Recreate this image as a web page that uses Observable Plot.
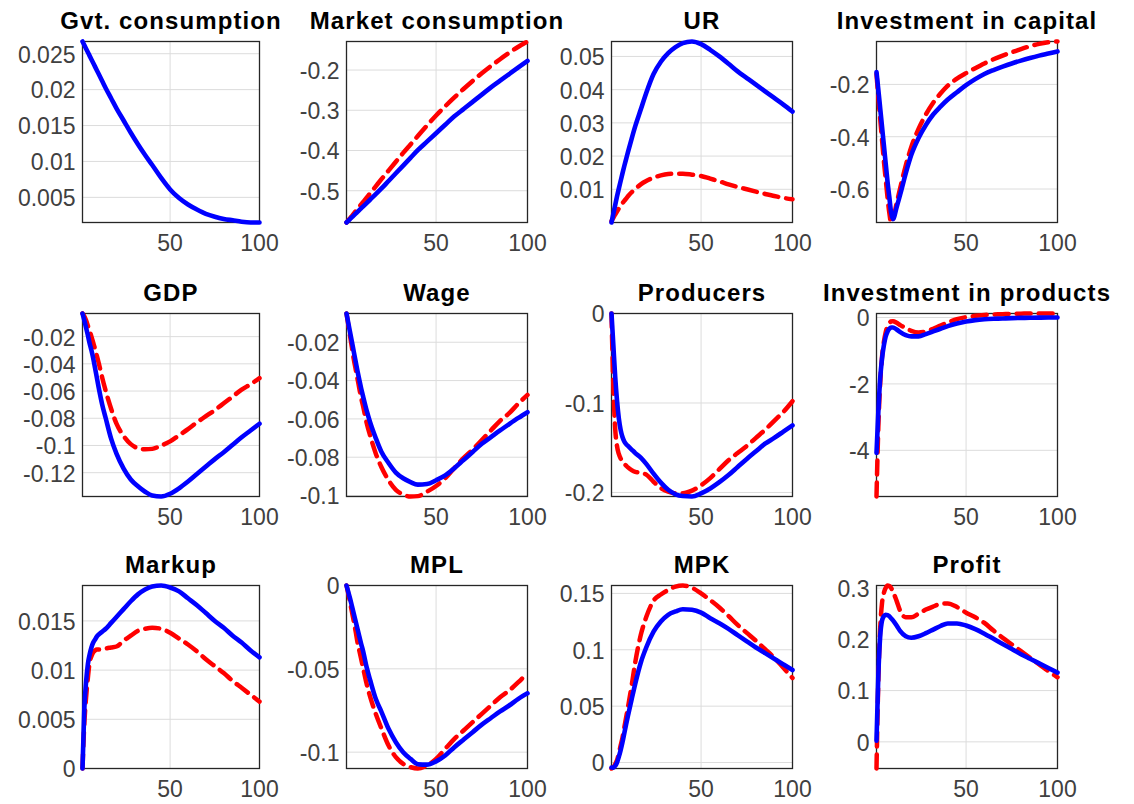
<!DOCTYPE html>
<html><head><meta charset="utf-8">
<script src="https://cdn.jsdelivr.net/npm/d3@7"></script>
<script src="https://cdn.jsdelivr.net/npm/@observablehq/plot@0.6"></script>
<style>
body{margin:0;background:#fff;}
#wrap{position:relative;width:1134px;height:804px;overflow:hidden;background:#fff;}
#wrap svg{position:absolute;overflow:visible;font-family:"Liberation Sans",Arial,sans-serif;background:transparent;}
</style></head><body><div id="wrap"></div>
<script>
// ---- data ----
const periods = [1,2,3,4,5,6,7,8,9,10,12,14,17,20,24,28,32,36,40,45,50,55,60,65,70,75,80,85,90,95,100];

const titles = ["Gvt. consumption","Market consumption","UR","Investment in capital","GDP","Wage","Producers","Investment in products","Markup","MPL","MPK","Profit"];

const gvtBlue = [.0267,.0262,.0257,.0252,.0247,.0242,.0237,.0232,.0227,.0222,.0212,.0202,.0188,.0174,.0157,.0140,.0124,.0109,.0095,.0077,.0061,.0049,.0040,.0033,.0027,.0023,.0020,.0018,.0016,.0015,.0015];

const marketBlue = [-.579,-.5746,-.5702,-.5658,-.5614,-.557,-.5526,-.5482,-.5438,-.5394,-.5306,-.5218,-.5086,-.495,-.4758,-.4566,-.4374,-.4182,-.399,-.378,-.357,-.336,-.315,-.297,-.279,-.261,-.243,-.2265,-.210,-.1935,-.177];
const marketRed = [-.579,-.5735,-.568,-.5625,-.557,-.551,-.5455,-.540,-.534,-.5285,-.517,-.506,-.489,-.472,-.450,-.428,-.406,-.385,-.364,-.338,-.313,-.290,-.268,-.247,-.227,-.208,-.190,-.173,-.157,-.142,-.129];

const urBlue = [0,.0026,.0052,.0078,.0102,.0125,.0148,.0170,.0191,.0212,.0252,.0290,.0340,.0390,.0447,.0484,.0510,.0528,.0540,.0545,.0537,.0520,.0500,.0478,.0455,.0435,.0415,.0395,.0375,.0355,.0334];
const urRed = [.0004,.0014,.0024,.0033,.0042,.0050,.0058,.0065,.0072,.0079,.0091,.0101,.0115,.0125,.0135,.0142,.0146,.0147,.0147,.0144,.0140,.0132,.0124,.0115,.0107,.0100,.0093,.0086,.0080,.0074,.0070];

const invCapBlue = [-.153,-.22,-.29,-.36,-.43,-.50,-.57,-.63,-.69,-.715,-.67,-.62,-.54,-.47,-.405,-.355,-.315,-.285,-.258,-.23,-.203,-.18,-.16,-.145,-.132,-.12,-.109,-.099,-.09,-.082,-.074];
const invCapRed = [-.16,-.25,-.33,-.41,-.49,-.56,-.63,-.69,-.728,-.715,-.655,-.595,-.51,-.44,-.37,-.315,-.27,-.235,-.205,-.178,-.157,-.138,-.12,-.104,-.09,-.077,-.065,-.054,-.045,-.039,-.036];

const gdpBlue = [-.003,-.008,-.0135,-.019,-.025,-.030,-.036,-.043,-.050,-.057,-.0698,-.080,-.095,-.106,-.117,-.125,-.130,-.134,-.1368,-.1375,-.1355,-.1315,-.1265,-.121,-.1155,-.110,-.105,-.0995,-.094,-.089,-.084];
const gdpRed = [-.003,-.005,-.008,-.012,-.016,-.020,-.0245,-.029,-.034,-.039,-.050,-.060,-.073,-.084,-.093,-.099,-.102,-.1028,-.1025,-.100,-.097,-.0925,-.088,-.083,-.0785,-.074,-.069,-.064,-.059,-.055,-.0505];

const wageBlue = [-.005,-.010,-.015,-.020,-.025,-.030,-.035,-.0395,-.044,-.048,-.0556,-.062,-.070,-.077,-.083,-.088,-.091,-.093,-.0943,-.094,-.092,-.0895,-.0857,-.0815,-.0773,-.073,-.0695,-.066,-.0627,-.0595,-.0565];
const wageRed = [-.005,-.011,-.017,-.023,-.029,-.034,-.039,-.044,-.049,-.053,-.062,-.069,-.078,-.085,-.092,-.097,-.0995,-.1005,-.1003,-.098,-.095,-.091,-.0856,-.0805,-.076,-.071,-.066,-.061,-.057,-.052,-.0475];

const producersBlue = [0,-.035,-.070,-.097,-.117,-.130,-.138,-.143,-.146,-.148,-.152,-.156,-.161,-.168,-.179,-.189,-.197,-.202,-.204,-.2045,-.201,-.1955,-.1885,-.1805,-.1715,-.1625,-.154,-.1455,-.139,-.132,-.125];
const producersRed = [0,-.08,-.128,-.148,-.157,-.162,-.165,-.168,-.170,-.172,-.175,-.177,-.178,-.180,-.188,-.195,-.199,-.201,-.201,-.198,-.192,-.184,-.174,-.164,-.156,-.148,-.139,-.130,-.120,-.110,-.098];

const invProdBlue = [-4.08,-2.85,-1.85,-1.25,-.85,-.58,-.43,-.34,-.30,-.30,-.36,-.44,-.53,-.57,-.57,-.50,-.42,-.34,-.26,-.18,-.12,-.08,-.055,-.04,-.03,-.02,-.013,-.008,-.004,-.002,0];
const invProdRed = [-5.39,-3.3,-2.0,-1.2,-.75,-.45,-.27,-.17,-.12,-.11,-.16,-.23,-.32,-.40,-.45,-.42,-.34,-.24,-.15,-.05,.01,.05,.075,.09,.10,.11,.115,.12,.12,.12,.12];

const markupBlue = [0,.0060,.0088,.0106,.0116,.0123,.0128,.0131,.0134,.0136,.0139,.0142,.0148,.0154,.0162,.0170,.0177,.0182,.0185,.0186,.0184,.0180,.0173,.0166,.0158,.0150,.0143,.0135,.0128,.0120,.0113];
const markupRed = [0,.0045,.0072,.0092,.0108,.0114,.0118,.0120,.0121,.0121,.0121,.0122,.0123,.0124,.0130,.0135,.0140,.0142,.0143,.0142,.0138,.0132,.0126,.0119,.0111,.0104,.0097,.0089,.0082,.0075,.0068];

const mplBlue = [0,-.004,-.008,-.0125,-.017,-.0215,-.026,-.0305,-.035,-.039,-.049,-.057,-.068,-.0755,-.086,-.094,-.100,-.104,-.1072,-.1075,-.1055,-.102,-.097,-.0925,-.088,-.0835,-.0795,-.0755,-.072,-.068,-.0647];
const mplRed = [0,-.005,-.0105,-.016,-.0215,-.0275,-.034,-.039,-.044,-.049,-.059,-.067,-.077,-.0855,-.096,-.103,-.107,-.109,-.1098,-.108,-.104,-.098,-.092,-.087,-.082,-.077,-.072,-.067,-.063,-.058,-.0525];

const mpkBlue = [-.0044,-.0045,-.003,0,.005,.011,.018,.026,.034,.0415,.056,.070,.0885,.102,.116,.125,.131,.134,.136,.1355,.133,.128,.1235,.1185,.113,.1075,.102,.097,.092,.087,.082];
const mpkRed = [-.0053,-.004,-.0015,.002,.008,.015,.022,.031,.040,.049,.068,.089,.113,.129,.1435,.149,.153,.156,.157,.155,.150,.144,.1375,.130,.122,.115,.108,.1005,.093,.084,.075];

const profitBlue = [.002,.13,.205,.236,.245,.248,.247,.245,.241,.237,.227,.216,.206,.203,.206,.212,.219,.226,.231,.231,.227,.220,.211,.201,.191,.181,.171,.162,.153,.144,.135];
const profitRed = [-.052,.12,.22,.27,.29,.30,.305,.304,.300,.293,.275,.255,.243,.243,.250,.258,.264,.269,.270,.263,.252,.243,.232,.217,.203,.190,.177,.164,.151,.138,.126];

const xTicks = [50, 100];
const yTicks = [
  [0.005,0.01,0.015,0.02,0.025],
  [-0.5,-0.4,-0.3,-0.2],
  [0.01,0.02,0.03,0.04,0.05],
  [-0.6,-0.4,-0.2],
  [-0.12,-0.1,-0.08,-0.06,-0.04,-0.02],
  [-0.1,-0.08,-0.06,-0.04,-0.02],
  [-0.2,-0.1,0],
  [-4,-2,0],
  [0,0.005,0.01,0.015],
  [-0.1,-0.05,0],
  [0,0.05,0.1,0.15],
  [0,0.1,0.2,0.3]
];
const blueSeries = [gvtBlue,marketBlue,urBlue,invCapBlue,gdpBlue,wageBlue,producersBlue,invProdBlue,markupBlue,mplBlue,mpkBlue,profitBlue];
const redSeries = [null,marketRed,urRed,invCapRed,gdpRed,wageRed,producersRed,invProdRed,markupRed,mplRed,mpkRed,profitRed];

// ---- layout ----
const colLeft = [82, 346, 611, 876];
const colWidth = [177, 181, 181, 181];
const rowTop = [41, 313, 585];
const rowHeight = [181, 183, 183];
const ML = 80, MR = 35, MT = 40, MB = 40;

const fmt = d => String(+(+d).toPrecision(6));
const wrap = document.getElementById("wrap");

titles.forEach((title, i) => {
  const r = Math.floor(i / 4), c = i % 4;
  const w = colWidth[c], h = rowHeight[r];
  const blue = periods.map((t, k) => ({t, v: blueSeries[i][k]}));
  const red = redSeries[i] ? periods.map((t, k) => ({t, v: redSeries[i][k]})) : [];
  const all = blue.concat(red).map(d => d.v);
  const chart = Plot.plot({
    width: ML + w + MR,
    height: MT + h + MB,
    marginLeft: ML, marginRight: MR, marginTop: MT, marginBottom: MB,
    x: {domain: [1, 100]},
    y: {domain: d3.extent(all)},
    marks: [
      Plot.gridX([50], {stroke: "#dcdcdc", strokeOpacity: 1, strokeWidth: 1}),
      Plot.gridY(yTicks[i], {stroke: "#dcdcdc", strokeOpacity: 1, strokeWidth: 1}),
      Plot.frame({stroke: "#262626", strokeWidth: 1.3}),
      Plot.axisX({ticks: xTicks, tickSize: 0, tickPadding: 12, label: null, tickFormat: fmt, fontSize: 23, color: "#404040"}),
      Plot.axisY({ticks: yTicks[i], tickSize: 0, tickPadding: 7, dy: 1.5, label: null, tickFormat: fmt, fontSize: 23, color: "#404040"}),
      Plot.line(red, {x: "t", y: "v", stroke: "#ff0000", strokeWidth: 4.5, strokeDasharray: "14,8", curve: "monotone-x"}),
      Plot.line(blue, {x: "t", y: "v", stroke: "#0000ff", strokeWidth: 4.6, curve: "monotone-x"}),
      Plot.text([title], {frameAnchor: "top", dy: -13, lineAnchor: "bottom", fontSize: 24, fontWeight: "bold", fill: "#000"})
    ]
  });
  chart.style.left = (colLeft[c] - ML) + "px";
  chart.style.top = (rowTop[r] - MT) + "px";
  d3.select(chart).selectAll("g[font-weight=bold] text").style("letter-spacing", "1.1px");
  wrap.appendChild(chart);
});
</script></body></html>
